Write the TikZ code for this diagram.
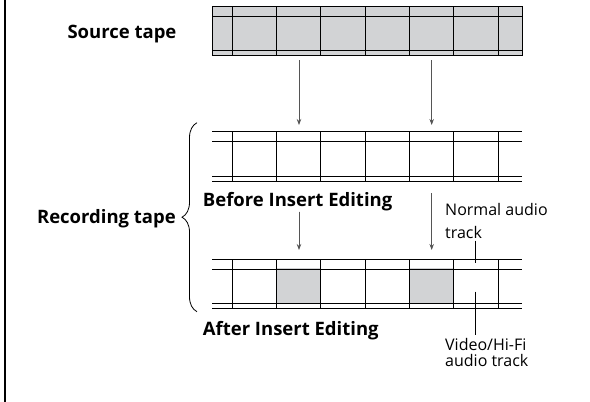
\documentclass[tikz,border=0pt]{standalone}
\usepackage{fontspec}
\setmainfont{Open Sans}
\usepackage{tikz}
\usetikzlibrary{arrows.meta,positioning,decorations.pathreplacing}
\definecolor{tapegray}{RGB}{210,211,213}
\definecolor{arrowgray}{RGB}{85,85,85}

\begin{document}
\begin{tikzpicture}[
  x=1pt, y=-1pt,
  font=\fontsize{16}{23.3}\selectfont,
  tape/.style={minimum width=310pt, minimum height=49.3pt, inner sep=0pt, outer sep=0pt, anchor=north west},
  track/.style={line width=0.9pt},
  arrow/.style={-{Stealth[length=6pt,width=4.5pt]}, line width=0.8pt, draw=arrowgray, fill=arrowgray},
  leader/.style={line width=0.9pt},
  title/.style={font=\bfseries\fontsize{18.5}{23}\selectfont, inner sep=0pt},
  note/.style={align=left, inner sep=0pt}
]
\useasboundingbox (0,0) rectangle (590,402);
\draw[line width=2pt] (5,0) -- (5,402);

% the three tapes
\node[tape, fill=tapegray] (src) at (212,6) {};
\node[tape] (rec1) at (212,131.7) {};
\node[tape] (rec2) at (212,259) {};

% inserted scenes
\fill[tapegray] (276.7,268.3) rectangle (320.7,302.7);
\fill[tapegray] (409.3,268.3) rectangle (453.3,302.7);

\foreach \t in {src,rec1,rec2} {
  \foreach \d in {0,10,44.3,49.3}
    \draw[track] ([yshift=-\d pt]\t.north west) -- ([yshift=-\d pt]\t.north east);
  \foreach \d in {20.3,64.7,108.7,153,197.3,241.3,286.3}
    \draw[track] ([xshift=\d pt]\t.north west) -- ([xshift=\d pt]\t.south west);
}
\draw[track] (src.north west) rectangle (src.south east);

% labels
\node[title, anchor=base west] (srclbl) at (67.3,38.3) {Source tape};
\node[title, anchor=base west] (before) at (202.7,206.7) {Before Insert Editing};
\node[title, anchor=base west] (after) at (202.7,335) {After Insert Editing};
\node[note, anchor=base west] (normal) at (445,238.3) {Normal audio\\track};
\node[note, anchor=base west, font=\fontsize{16}{16.7}\selectfont] (video) at (445,366.7) {Video/Hi-Fi\\audio track};

% brace
\draw[decorate, decoration={brace, amplitude=15pt}, line width=0.8pt]
  (197,311.7) -- (197,122.7);
\node[title, anchor=base east] (reclbl) at (176,223.3) {Recording tape};

% arrows
\coordinate (s1) at (299,60);
\coordinate (s2) at (431.7,60);
\coordinate (b1) at (299,211.7);
\coordinate (b2) at (431.7,193);
\draw[arrow, shorten >=6.7pt] (s1) -- (s1 |- rec1.north);
\draw[arrow, shorten >=6.7pt] (s2) -- (s2 |- rec1.north);
\draw[arrow, shorten >=9pt] (b1) -- (b1 |- rec2.north);
\draw[arrow, shorten >=9pt] (b2) -- (b2 |- rec2.north);

% track pointers
\coordinate (n1) at (475.7,263.3);
\coordinate (n2) at (475.7,291.7);
\draw[leader, shorten <=2pt] (n1 |- normal.south) -- (n1);
\draw[leader, shorten >=3pt] (n2) -- (n2 |- video.north);
\end{tikzpicture}
\end{document}
